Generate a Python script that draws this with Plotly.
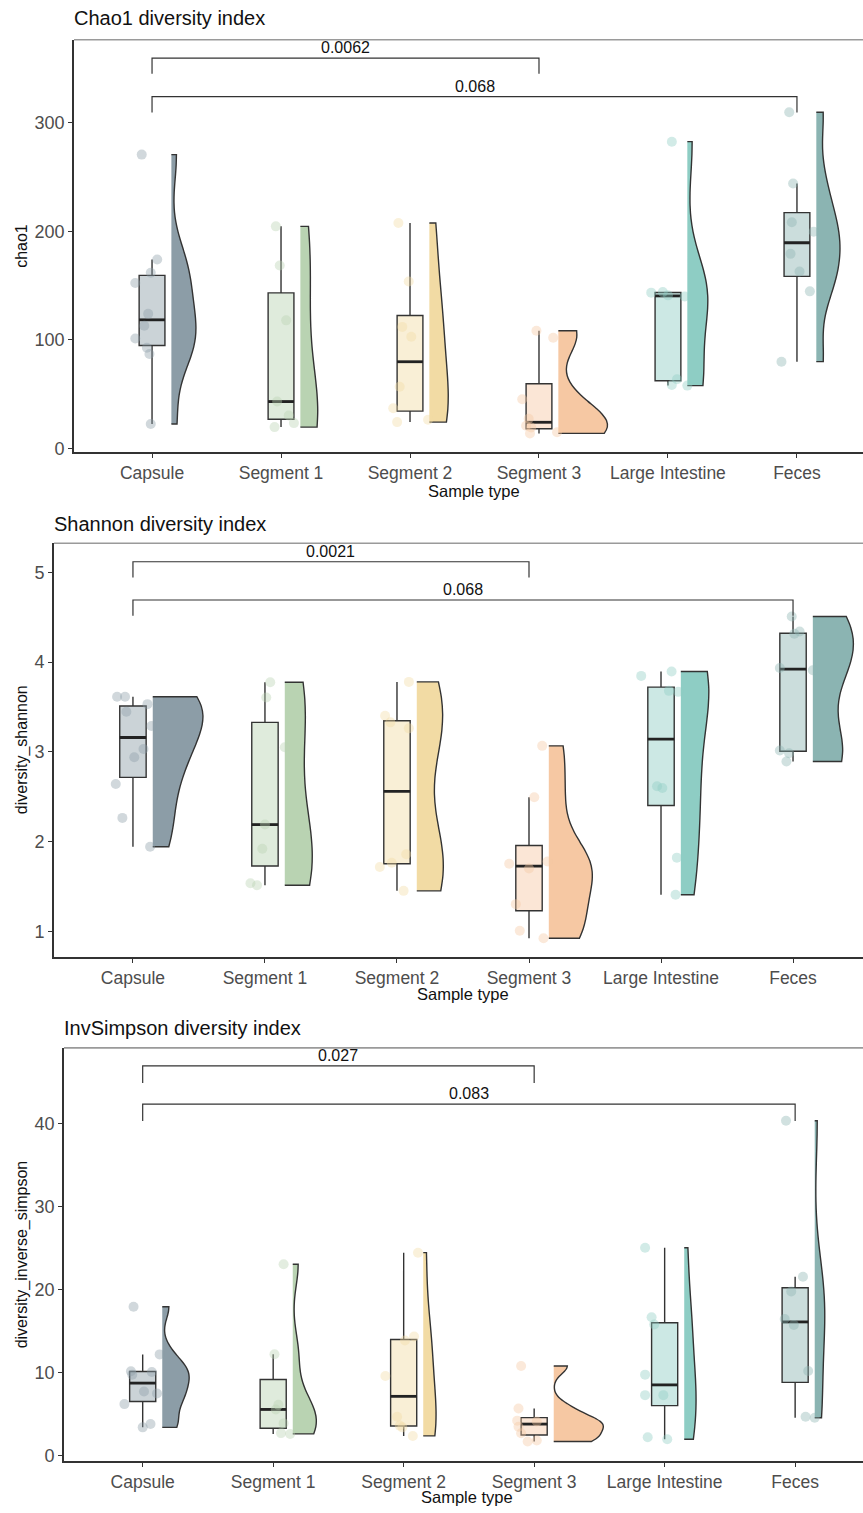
import numpy as np
import plotly.graph_objects as go

# ---------------- data ----------------
categories = ["Capsule", "Segment 1", "Segment 2", "Segment 3", "Large Intestine", "Feces"]
violin_colors = ["#8c9da7", "#b9d3b2", "#f2dba4", "#f6c8a3", "#8ecdc4", "#8bb4b2"]

# chao1
chao1_capsule = [270.5, 174, 161.8, 152.3, 124, 113, 101.3, 92.8, 87, 22.6]
chao1_seg1 = [204.5, 168.5, 118, 43.3, 30.5, 23.5, 19.8]
chao1_seg2 = [207.6, 153.8, 112, 102.9, 57, 37.2, 24.4, 26.6]
chao1_seg3 = [108.4, 102, 45.5, 27.5, 21, 19.4, 14, 15]
chao1_li = [282.4, 144, 143.5, 141, 140, 63.8, 58.6, 58]
chao1_feces = [309.5, 243.9, 208.2, 199.6, 179.2, 163, 144.7, 80]

# jitter offsets (category units)
chao1_jit_capsule = [-0.08, 0.04, -0.01, -0.13, -0.03, -0.06, -0.13, -0.04, -0.02, -0.01]
chao1_jit_seg1 = [-0.04, -0.01, 0.04, -0.03, 0.06, 0.10, -0.05]
chao1_jit_seg2 = [-0.09, -0.01, -0.06, 0.01, -0.08, -0.13, -0.10, 0.14]
chao1_jit_seg3 = [-0.02, 0.11, -0.13, -0.08, -0.10, -0.06, -0.07, 0.14]
chao1_jit_li = [0.03, -0.04, -0.13, 0.0, 0.13, 0.07, 0.03, 0.15]
chao1_jit_feces = [-0.06, -0.03, -0.04, 0.13, -0.05, 0.02, 0.10, -0.12]

# shannon
shannon_capsule = [3.614, 3.614, 3.532, 3.447, 3.288, 3.033, 2.941, 2.641, 2.264, 1.943]
shannon_seg1 = [3.776, 3.606, 3.052, 2.19, 1.92, 1.536, 1.514]
shannon_seg2 = [3.78, 3.403, 3.329, 3.262, 1.858, 1.765, 1.717, 1.451]
shannon_seg3 = [3.067, 2.494, 1.778, 1.754, 1.70, 1.303, 1.007, 0.922]
shannon_li = [3.895, 3.847, 3.68, 3.669, 2.616, 2.597, 1.821, 1.407]
shannon_feces = [4.508, 4.342, 4.316, 3.935, 3.909, 3.015, 2.985, 2.893]

shannon_jit_capsule = [-0.12, -0.06, 0.11, -0.05, 0.14, 0.08, 0.01, -0.13, -0.08, 0.13]
shannon_jit_seg1 = [0.04, 0.01, 0.15, 0.0, -0.02, -0.11, -0.06]
shannon_jit_seg2 = [0.09, -0.09, -0.05, 0.09, 0.07, -0.04, -0.13, 0.05]
shannon_jit_seg3 = [0.10, 0.04, 0.14, -0.15, 0.0, -0.10, -0.07, 0.11]
shannon_jit_li = [0.08, -0.15, 0.06, 0.13, -0.03, 0.01, 0.12, 0.11]
shannon_jit_feces = [-0.01, 0.05, 0.01, -0.10, 0.15, -0.10, -0.03, -0.05]

# inverse simpson
invs_capsule = [17.92, 12.18, 10.14, 10.06, 9.74, 7.7, 7.47, 6.19, 3.79, 3.39]
invs_seg1 = [23.03, 12.2, 6.1, 5.55, 3.87, 2.7, 2.6]
invs_seg2 = [24.43, 14.33, 13.85, 9.58, 4.67, 3.6, 3.39, 2.36]
invs_seg3 = [10.78, 5.67, 4.2, 4.1, 3.47, 2.69, 1.8, 1.68]
invs_li = [25.03, 16.65, 15.77, 9.74, 7.27, 7.27, 2.2, 1.96]
invs_feces = [40.32, 21.52, 19.76, 16.45, 15.73, 10.18, 4.67, 4.55]

invs_jit_capsule = [-0.07, 0.13, -0.09, 0.07, -0.08, 0.01, 0.11, -0.14, 0.06, 0.0]
invs_jit_seg1 = [0.08, 0.01, 0.04, 0.02, 0.08, 0.06, 0.13]
invs_jit_seg2 = [0.11, 0.08, 0.01, -0.14, -0.05, -0.03, -0.01, 0.07]
invs_jit_seg3 = [-0.10, -0.12, -0.13, 0.02, -0.12, -0.10, 0.02, -0.05]
invs_jit_li = [-0.15, -0.10, -0.08, -0.15, -0.15, -0.01, -0.13, 0.02]
invs_jit_feces = [-0.07, 0.06, -0.03, -0.08, -0.01, 0.10, 0.08, 0.15]

# significance brackets: pairs (category index), p-values, bracket levels, tip length
bracket_pairs = [(1, 4), (1, 6)]
chao1_pvals = ["0.0062", "0.068"]
chao1_levels = [359.3, 323.8]
chao1_tip = 14.5
shannon_pvals = ["0.0021", "0.068"]
shannon_levels = [5.119, 4.693]
shannon_tip = 0.175
invs_pvals = ["0.027", "0.083"]
invs_levels = [46.92, 42.33]
invs_tip = 2.05

panel_titles = ["Chao1 diversity index", "Shannon diversity index", "InvSimpson diversity index"]
y_titles = ["chao1", "diversity_shannon", "diversity_inverse_simpson"]
x_title = "Sample type"
y_tickvals = [[0, 100, 200, 300], [1, 2, 3, 4, 5], [0, 10, 20, 30, 40]]

# ---------------- layout geometry (pixels of the 863x1513 page) ----------------
W, H = 863, 1513
panels = [
    dict(left=74, top=40, bottom=454, xr=[0.395, 6.512], yr=[-3.0, 376.1], title_y=18, xt_x=474, xt_y=493),
    dict(left=54, top=545.7, bottom=961.7, xr=[0.402, 6.53], yr=[0.711, 5.326], title_y=526, xt_x=463, xt_y=999),
    dict(left=64, top=1052.7, bottom=1467.7, xr=[0.397, 6.52], yr=[-0.65, 49.1], title_y=1033, xt_x=467, xt_y=1504),
]

metric_values = [
    [chao1_capsule, chao1_seg1, chao1_seg2, chao1_seg3, chao1_li, chao1_feces],
    [shannon_capsule, shannon_seg1, shannon_seg2, shannon_seg3, shannon_li, shannon_feces],
    [invs_capsule, invs_seg1, invs_seg2, invs_seg3, invs_li, invs_feces],
]
metric_jitter = [
    [chao1_jit_capsule, chao1_jit_seg1, chao1_jit_seg2, chao1_jit_seg3, chao1_jit_li, chao1_jit_feces],
    [shannon_jit_capsule, shannon_jit_seg1, shannon_jit_seg2, shannon_jit_seg3, shannon_jit_li, shannon_jit_feces],
    [invs_jit_capsule, invs_jit_seg1, invs_jit_seg2, invs_jit_seg3, invs_jit_li, invs_jit_feces],
]
metric_brackets = [
    (chao1_pvals, chao1_levels, chao1_tip),
    (shannon_pvals, shannon_levels, shannon_tip),
    (invs_pvals, invs_levels, invs_tip),
]

BOX_W = 0.2
VIOLIN_OFFSET = 0.15
VIOLIN_W = 0.76          # full width of the widest violin (half drawn)
LINE_COL = "#333333"
FONT = "Liberation Sans, Arial, sans-serif"


def hex_rgba(h, a):
    h = h.lstrip("#")
    r, g, b = int(h[0:2], 16), int(h[2:4], 16), int(h[4:6], 16)
    return f"rgba({r},{g},{b},{a})"


def nrd0(v):
    v = np.asarray(v, float)
    sd = v.std(ddof=1)
    q1, q3 = np.percentile(v, [25, 75])
    lo = min(sd, (q3 - q1) / 1.34)
    if lo <= 0:
        lo = sd if sd > 0 else 1.0
    return 0.9 * lo * len(v) ** (-0.2)


def kde_max(v, bw):
    v = np.asarray(v, float)
    xs = np.linspace(v.min(), v.max(), 512)
    d = np.exp(-0.5 * ((xs[:, None] - v[None, :]) / bw) ** 2).sum(1) / (len(v) * bw * np.sqrt(2 * np.pi))
    return d.max()


def box_stats(v):
    v = np.sort(np.asarray(v, float))
    q1, med, q3 = np.percentile(v, [25, 50, 75])
    iqr = q3 - q1
    lf = v[v >= q1 - 1.5 * iqr].min()
    uf = v[v <= q3 + 1.5 * iqr].max()
    return q1, med, q3, lf, uf


fig = go.Figure()
annotations = []
shapes = []
layout_axes = {}

for p, geo in enumerate(panels):
    sfx = "" if p == 0 else str(p + 1)
    xa, ya = "x" + sfx, "y" + sfx
    vals_list = metric_values[p]
    jit_list = metric_jitter[p]
    bws = [nrd0(v) for v in vals_list]
    dmax = [kde_max(v, b) for v, b in zip(vals_list, bws)]
    gmax = max(dmax)

    for c, (vals, jit) in enumerate(zip(vals_list, jit_list)):
        pos = c + 1
        col = violin_colors[c]
        # half violin (area-scaled like ggplot scale="area")
        fig.add_trace(go.Violin(
            y=vals, x0=pos + VIOLIN_OFFSET, side="positive",
            width=VIOLIN_W * dmax[c] / gmax,
            scalemode="width", spanmode="hard",
            bandwidth=bws[c], points=False,
            box=dict(visible=False), meanline=dict(visible=False),
            fillcolor=col, line=dict(color=LINE_COL, width=1.4), opacity=1,
            xaxis=xa, yaxis=ya, hoverinfo="skip", orientation="v"))
        # box
        q1, med, q3, lf, uf = box_stats(vals)
        fig.add_trace(go.Box(
            x=[pos], q1=[q1], median=[med], q3=[q3], lowerfence=[lf], upperfence=[uf],
            width=BOX_W, whiskerwidth=0, boxpoints=False, orientation="v",
            fillcolor=hex_rgba(col, 0.45), line=dict(color=LINE_COL, width=1.4),
            xaxis=xa, yaxis=ya, hoverinfo="skip"))
        # thicker median line
        fig.add_trace(go.Scatter(
            x=[pos - BOX_W / 2, pos + BOX_W / 2], y=[med, med], mode="lines",
            line=dict(color="#222222", width=2.8), xaxis=xa, yaxis=ya, hoverinfo="skip"))
        # jittered points
        fig.add_trace(go.Scatter(
            x=[pos + j for j in jit], y=vals, mode="markers",
            marker=dict(size=10, color=hex_rgba(col, 0.4), line=dict(width=0)),
            xaxis=xa, yaxis=ya, hoverinfo="skip"))

    # brackets
    pvals, levels, tip = metric_brackets[p]
    for (a, b), pv, lev in zip(bracket_pairs, pvals, levels):
        fig.add_trace(go.Scatter(
            x=[a, a, b, b], y=[lev - tip, lev, lev, lev - tip], mode="lines",
            line=dict(color=LINE_COL, width=1.2), xaxis=xa, yaxis=ya, hoverinfo="skip"))
        annotations.append(dict(x=(a + b) / 2, y=lev, xref=xa, yref=ya, text=pv,
                                showarrow=False, yanchor="bottom", yshift=0,
                                font=dict(size=16, color="#111111", family=FONT)))

    xdom = [geo["left"] / W, 1.0]
    ydom = [1 - geo["bottom"] / H, 1 - geo["top"] / H]
    layout_axes["xaxis" + sfx] = dict(
        domain=xdom, range=geo["xr"], type="linear", anchor=ya,
        tickmode="array", tickvals=list(range(1, 7)), ticktext=categories,
        ticks="outside", ticklen=4, tickwidth=1.3, tickcolor=LINE_COL,
        showline=True, linecolor=LINE_COL, linewidth=1.6,
        showgrid=False, zeroline=False,
        tickfont=dict(size=17.5, color="#4d4d4d", family=FONT))
    layout_axes["yaxis" + sfx] = dict(
        domain=ydom, range=geo["yr"], type="linear", anchor=xa,
        tickmode="array", tickvals=y_tickvals[p],
        ticks="outside", ticklen=4, tickwidth=1.3, tickcolor=LINE_COL,
        showline=True, linecolor=LINE_COL, linewidth=1.6,
        showgrid=False, zeroline=False,
        tickfont=dict(size=18, color="#4d4d4d", family=FONT))

    # top border line
    shapes.append(dict(type="line", xref=xa + " domain", yref=ya + " domain",
                       x0=0, x1=1, y0=1, y1=1, line=dict(color="#9a9a9a", width=1.6)))
    # panel title
    annotations.append(dict(x=(geo["left"] - 2) / W, y=1 - geo["title_y"] / H, xref="paper", yref="paper",
                            text=panel_titles[p], showarrow=False, xanchor="left", yanchor="middle",
                            font=dict(size=20, color="#111111", family=FONT)))
    # y title
    annotations.append(dict(x=22 / W, y=1 - (geo["top"] + geo["bottom"]) / 2 / H, xref="paper", yref="paper",
                            text=y_titles[p], showarrow=False, textangle=-90,
                            xanchor="center", yanchor="middle",
                            font=dict(size=16, color="#111111", family=FONT)))
    # x title
    annotations.append(dict(x=geo["xt_x"] / W, y=1 - geo["xt_y"] / H, xref="paper", yref="paper",
                            text=x_title, showarrow=False, xanchor="center", yanchor="middle",
                            font=dict(size=16.5, color="#111111", family=FONT)))

fig.update_layout(
    width=W, height=H, margin=dict(l=0, r=0, t=0, b=0),
    paper_bgcolor="white", plot_bgcolor="white", showlegend=False,
    violinmode="overlay", boxmode="overlay",
    annotations=annotations, shapes=shapes,
    font=dict(family=FONT),
    **layout_axes)

fig.write_html("out.html")
